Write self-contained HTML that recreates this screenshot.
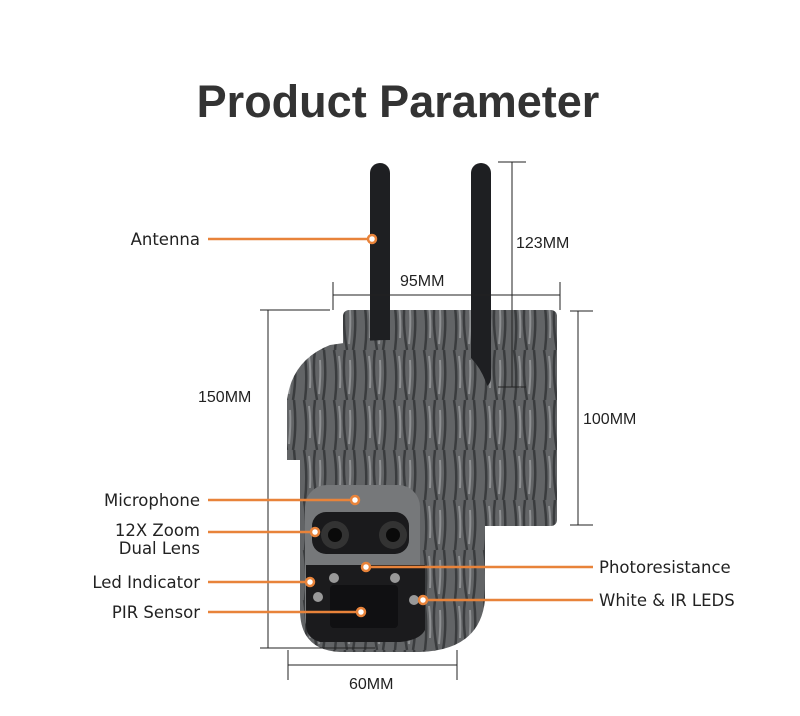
<!DOCTYPE html>
<html><head><meta charset="utf-8"><style>
html,body{margin:0;padding:0;background:#fff;}
svg{display:block}
.l{font-family:"DejaVu Sans",sans-serif;font-size:16.5px;fill:#222}
.d{font-family:"Liberation Sans",sans-serif;font-size:16px;fill:#222}
</style></head><body>
<svg width="800" height="716" viewBox="0 0 800 716" xmlns="http://www.w3.org/2000/svg">
<defs>
<pattern id="bark" width="30" height="50" patternUnits="userSpaceOnUse">
<rect width="30" height="50" fill="#626466"/>
<path d="M4 0 Q8 25 5 50 M15 0 Q12 22 17 50 M24 0 Q27 27 23 50" stroke="#3a3c3e" stroke-width="2.5" fill="none"/>
<path d="M9 6 Q11 20 10 38 M20 10 Q21 25 19 44" stroke="#8e9092" stroke-width="2" fill="none"/>
</pattern>
</defs>
<text x="398" y="117" text-anchor="middle" font-family="Liberation Sans,sans-serif" font-weight="bold" font-size="45" fill="#333">Product Parameter</text>

<rect x="343" y="310" width="214" height="216" rx="6" fill="url(#bark)"/>
<rect x="370" y="163" width="20" height="190" rx="10" fill="#1e1f22"/>
<rect x="471" y="163" width="20" height="225" rx="10" fill="#1e1f22"/>
<path d="M287 400 Q292 360 330 345 Q390 335 450 345 Q480 355 490 395 L490 460 L287 460 Z" fill="url(#bark)"/>
<path d="M300 460 L485 460 L485 600 Q480 650 420 652 L340 652 Q300 650 300 610 Z" fill="url(#bark)"/>
<rect x="305" y="485" width="115" height="155" rx="22" fill="#76787a"/>
<rect x="312" y="512" width="97" height="42" rx="14" fill="#1a1a1c"/>
<circle cx="335" cy="535" r="14" fill="#333"/><circle cx="335" cy="535" r="7" fill="#0a0a0a"/>
<circle cx="393" cy="535" r="14" fill="#333"/><circle cx="393" cy="535" r="7" fill="#0a0a0a"/>
<path d="M306 565 L425 565 L425 630 Q420 640 400 642 L320 642 Q306 638 306 625 Z" fill="#1b1b1d"/>
<rect x="330" y="585" width="68" height="43" rx="4" fill="#101012"/>
<circle cx="334" cy="578" r="5" fill="#999"/><circle cx="395" cy="578" r="5" fill="#999"/>
<circle cx="318" cy="597" r="5" fill="#999"/><circle cx="414" cy="600" r="5" fill="#999"/>

<g stroke="#222" stroke-width="1" fill="none">
<line x1="512" y1="162" x2="512" y2="387"/><line x1="498" y1="162" x2="526" y2="162"/><line x1="498" y1="387" x2="526" y2="387"/>
<line x1="333" y1="295" x2="560" y2="295"/><line x1="333" y1="282" x2="333" y2="310"/><line x1="560" y1="282" x2="560" y2="310"/>
<line x1="268" y1="310" x2="268" y2="648"/><line x1="260" y1="310" x2="330" y2="310"/><line x1="260" y1="648" x2="375" y2="648"/>
<line x1="578" y1="311" x2="578" y2="525"/><line x1="570" y1="311" x2="593" y2="311"/><line x1="570" y1="525" x2="593" y2="525"/>
<line x1="288" y1="665" x2="457" y2="665"/><line x1="288" y1="650" x2="288" y2="680"/><line x1="457" y1="650" x2="457" y2="680"/>
</g>
<text class="d" x="516" y="248">123MM</text>
<text class="d" x="400" y="286">95MM</text>
<text class="d" x="198" y="402">150MM</text>
<text class="d" x="583" y="424">100MM</text>
<text class="d" x="349" y="689">60MM</text>

<g stroke="#e8833a" stroke-width="2.5" fill="none">
<line x1="208" y1="239" x2="372" y2="239"/>
<line x1="208" y1="500" x2="355" y2="500"/>
<line x1="208" y1="532" x2="315" y2="532"/>
<line x1="208" y1="582" x2="310" y2="582"/>
<line x1="208" y1="612" x2="360" y2="612"/>
<line x1="366" y1="567" x2="593" y2="567"/>
<line x1="423" y1="600" x2="593" y2="600"/>
</g>
<g fill="#fff" stroke="#e8833a" stroke-width="2.5">
<circle cx="372" cy="239" r="4"/><circle cx="355" cy="500" r="4"/><circle cx="315" cy="532" r="4"/>
<circle cx="310" cy="582" r="4"/><circle cx="361" cy="612" r="4"/><circle cx="366" cy="567" r="4"/><circle cx="423" cy="600" r="4"/>
</g>
<g class="l" text-anchor="end">
<text x="200" y="245">Antenna</text>
<text x="200" y="506">Microphone</text>
<text x="200" y="536">12X Zoom</text>
<text x="200" y="554">Dual Lens</text>
<text x="200" y="588">Led Indicator</text>
<text x="200" y="618">PIR Sensor</text>
</g>
<text class="l" x="599" y="573">Photoresistance</text>
<text class="l" x="599" y="606">White &amp; IR LEDS</text>
</svg>
</body></html>
